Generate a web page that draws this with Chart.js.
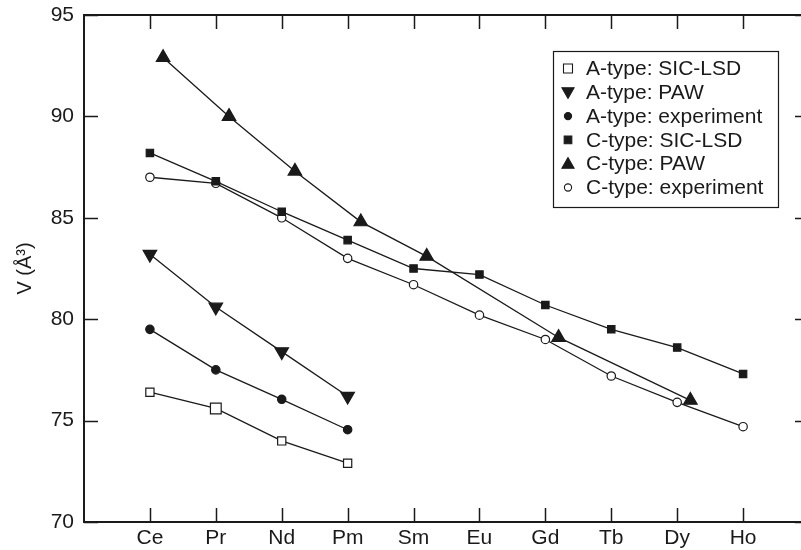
<!DOCTYPE html>
<html><head><meta charset="utf-8">
<script src="https://cdn.jsdelivr.net/npm/chart.js@4/dist/chart.umd.min.js"></script>
<style>html,body{margin:0;padding:0;overflow:hidden;background:#fff;width:801px;height:550px}</style>
</head><body>
<canvas id="c" width="818" height="550" style="display:block;width:818px;height:550px"></canvas>
<script>
// ---- data ----
const categories = ['Ce','Pr','Nd','Pm','Sm','Eu','Gd','Tb','Dy','Ho'];
const yTickValues = [70, 75, 80, 85, 90, 95];
const aCategories = ['Ce','Pr','Nd','Pm'];
const aSicLsd = [76.4, 75.6, 74.0, 72.9];
const aPaw = [83.2, 80.6, 78.4, 76.2];
const aExp = [79.5, 77.5, 76.05, 74.55];
const cSicLsd = [88.2, 86.8, 85.3, 83.9, 82.5, 82.2, 80.7, 79.5, 78.6, 77.3];
const cPawCategories = ['Ce','Pr','Nd','Pm','Sm','Gd','Dy'];
const cPaw = [92.9, 90.0, 87.3, 84.8, 83.1, 79.1, 76.0];
const cExp = [87.0, 86.7, 85.0, 83.0, 81.7, 80.2, 79.0, 77.2, 75.9, 74.7];

const PAW_SHIFT = 0.2;
const FONT = 'Liberation Sans, Arial, Helvetica, sans-serif';
const INK = '#1a1a1a';

function pts(cats, vals, shift) {
  return cats.map((c, i) => ({ x: categories.indexOf(c) + (shift || 0), y: vals[i] }));
}

const base = { borderColor: INK, borderWidth: 1.3, pointBorderColor: INK, pointBorderWidth: 1.2, fill: false, tension: 0 };

const datasets = [
  Object.assign({}, base, { label: 'A-type: SIC-LSD', data: pts(aCategories, aSicLsd), pointStyle: 'rect', pointBackgroundColor: '#fff', pointRadius: [5.8, 7.6, 5.8, 5.8], lg: {s:'sq', fill:false, r:4.5} }),
  Object.assign({}, base, { label: 'A-type: PAW', data: pts(aCategories, aPaw), pointStyle: 'triangle', pointRotation: 180, pointBackgroundColor: INK, pointRadius: 7.8, lg: {s:'tri', down:true, fill:true, r:7} }),
  Object.assign({}, base, { label: 'A-type: experiment', data: pts(aCategories, aExp), pointStyle: 'circle', pointBackgroundColor: INK, pointRadius: 4.2, lg: {s:'ci', fill:true, r:3.6} }),
  Object.assign({}, base, { label: 'C-type: SIC-LSD', data: pts(categories, cSicLsd), pointStyle: 'rect', pointBackgroundColor: INK, pointRadius: 5.2, lg: {s:'sq', fill:true, r:3.8} }),
  Object.assign({}, base, { label: 'C-type: PAW', data: pts(cPawCategories, cPaw, PAW_SHIFT), pointStyle: 'triangle', pointBackgroundColor: INK, pointRadius: 7.8, lg: {s:'tri', down:false, fill:true, r:7} }),
  Object.assign({}, base, { label: 'C-type: experiment', data: pts(categories, cExp), pointStyle: 'circle', pointBackgroundColor: '#fff', pointRadius: 4.2, lg: {s:'ci', fill:false, r:3.6} })
];

function shape(ctx, lg, x, y) {
  ctx.beginPath();
  if (lg.s === 'sq') {
    ctx.rect(x - lg.r, y - lg.r, 2 * lg.r, 2 * lg.r);
  } else if (lg.s === 'ci') {
    ctx.arc(x, y, lg.r, 0, Math.PI * 2);
  } else {
    const r = lg.r, h = r * Math.sqrt(3) / 2;
    if (lg.down) { ctx.moveTo(x - h, y - r/2 - 1); ctx.lineTo(x + h, y - r/2 - 1); ctx.lineTo(x, y + r - 1); }
    else { ctx.moveTo(x - h, y + r/2 + 1); ctx.lineTo(x + h, y + r/2 + 1); ctx.lineTo(x, y - r + 1); }
    ctx.closePath();
  }
  ctx.fillStyle = lg.fill ? INK : '#fff';
  ctx.fill();
  ctx.lineWidth = 1.1; ctx.strokeStyle = INK; ctx.stroke();
}

const framePlugin = {
  id: 'frame',
  afterDatasetsDraw(chart) {
    const ctx = chart.ctx, a = chart.chartArea;
    const xs = chart.scales.x, ys = chart.scales.y;
    const TL = 14;
    ctx.save();
    ctx.strokeStyle = INK; ctx.lineWidth = 2;
    ctx.strokeRect(a.left, a.top, a.right - a.left, a.bottom - a.top);
    ctx.lineWidth = 1.5;
    ctx.beginPath();
    categories.forEach((c, i) => {
      const px = Math.round(xs.getPixelForValue(i)) + 0.5;
      ctx.moveTo(px, a.bottom); ctx.lineTo(px, a.bottom - TL);
      ctx.moveTo(px, a.top); ctx.lineTo(px, a.top + TL);
    });
    yTickValues.forEach(v => {
      const py = Math.round(ys.getPixelForValue(v)) + 0.5;
      ctx.moveTo(a.left, py); ctx.lineTo(a.left + TL, py);
      ctx.moveTo(a.right, py); ctx.lineTo(a.right - TL, py);
    });
    ctx.stroke();

    // legend box
    const bx = 553, by = 51, bw = 225, bh = 156, rowH = 23.8, fy = 68.5;
    ctx.fillStyle = '#fff';
    ctx.fillRect(bx, by, bw, bh);
    ctx.lineWidth = 1.2; ctx.strokeStyle = INK;
    ctx.strokeRect(bx + 0.5, by + 0.5, bw, bh);
    ctx.font = '21px ' + FONT;
    ctx.textBaseline = 'middle'; ctx.textAlign = 'left';
    chart.data.datasets.forEach((ds, i) => {
      const y = fy + i * rowH;
      shape(ctx, ds.lg, 568, y);
      ctx.fillStyle = INK;
      ctx.fillText(ds.label, 586, y + 1);
    });
    ctx.restore();
  }
};

new Chart(document.getElementById('c'), {
  type: 'line',
  data: { datasets },
  options: {
    responsive: false,
    devicePixelRatio: 1,
    animation: false,
    layout: { padding: { top: 15, right: 3, left: 0, bottom: 0 } },
    plugins: { legend: { display: false }, tooltip: { enabled: false } },
    scales: {
      x: {
        type: 'linear', position: 'bottom', min: -1, max: 10,
        grid: { display: false, drawTicks: false },
        border: { display: false },
        afterFit(s) { s.height = 28; s.paddingLeft = 0; s.paddingRight = 0; },
        ticks: {
          stepSize: 1, autoSkip: false, maxRotation: 0, padding: 4,
          color: INK, font: { family: FONT, size: 21 },
          callback: v => (categories[v] !== undefined ? categories[v] : '')
        }
      },
      y: {
        type: 'linear', min: 70, max: 95,
        grid: { display: false, drawTicks: false },
        border: { display: false },
        afterFit(s) { s.width = 84; s.paddingTop = 0; s.paddingBottom = 0; },
        ticks: { stepSize: 5, padding: 10, color: INK, font: { family: FONT, size: 21 } },
        title: { display: true, text: 'V (Å³)', color: INK, font: { family: FONT, size: 20 }, padding: { top: 13, bottom: 0 } }
      }
    }
  },
  plugins: [framePlugin]
});
</script>
</body></html>
